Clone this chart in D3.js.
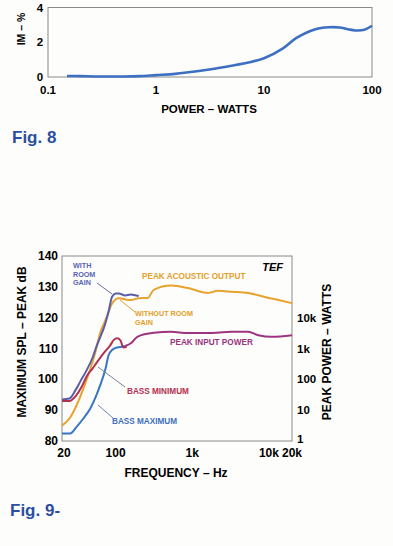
<!DOCTYPE html>
<html>
<head>
<meta charset="utf-8">
<script src="https://cdn.jsdelivr.net/npm/d3@7"></script>
<style>
  body { margin: 0; background: #fdfdfb; }
  text { font-family: "Liberation Sans", Arial, sans-serif; font-weight: bold; }
</style>
</head>
<body>
<div id="root"></div>
<script>
const width = 393;
const height = 546;

// Fig. 8 - IM distortion vs power
const imPower = [0.15, 0.2, 0.3, 0.5, 0.7, 1, 1.5, 2, 3, 5, 7, 10, 15, 20, 30, 40, 50, 60, 70, 85, 100];
const imPct   = [0.06, 0.05, 0.03, 0.03, 0.05, 0.11, 0.18, 0.27, 0.42, 0.65, 0.82, 1.08, 1.65, 2.25, 2.75, 2.86, 2.85, 2.75, 2.68, 2.72, 2.95];
const imXTicks = [0.1, 1, 10, 100];
const imYTicks = [0, 2, 4];

// Fig. 9 - maximum SPL / peak power vs frequency
const withRoomF  = [20, 25, 30, 35, 42, 50, 57, 65, 70, 81, 90, 100, 110, 134, 157, 200];
const withRoomDb = [93.5, 93.8, 96.5, 99.5, 103, 107, 111, 114.5, 116.5, 122, 126.8, 127.8, 127.8, 127.2, 127.5, 127];
const acousticF  = [20, 25, 31, 38, 47, 52, 63, 77, 90, 110, 157, 200, 262, 315, 527, 874, 1600, 2160, 3300, 5340, 10000, 13400, 20000];
const acousticDb = [85, 87.3, 91.6, 97, 103.5, 107, 115, 120.3, 124.6, 126.3, 125.7, 126.3, 126.4, 129, 130.4, 129.6, 128, 128.7, 128.4, 128, 126.4, 125.7, 124.7];
const bassMinF   = [20, 25, 30, 36, 42, 50, 57, 70, 85, 95, 105, 115, 127, 140];
const bassMinDb  = [93, 93, 94.5, 97.5, 101, 103.5, 105.5, 108.5, 111, 112.8, 113.3, 112.7, 110.3, 110.6];
const bassMaxF   = [20, 25.5, 31, 38, 47, 54, 63, 74, 81, 90, 100, 115, 134];
const bassMaxDb  = [82.4, 82.4, 84.6, 87.3, 90.6, 93.8, 98.1, 103.5, 107.8, 109.5, 110.2, 110.5, 110.8];
const inputF     = [134, 160, 192, 315, 527, 874, 1600, 3260, 5340, 7300, 10900, 20000];
const inputDb    = [110.8, 111.8, 113.8, 115.1, 115.4, 115, 115, 115.4, 115.4, 114.3, 113.8, 114.3];
const freqTicks  = [20, 100, 1000, 10000, 20000];
const freqLabels = ['20', '100', '1k', '10k', '20k'];
const dbTicks    = [80, 90, 100, 110, 120, 130, 140];
const wattTicks  = [1, 10, 100, 1000, 10000];
const wattLabels = ['1', '10', '100', '1k', '10k'];

const svg = d3.select('#root')
    .append('svg')
    .attr('width', width)
    .attr('height', height);

// ---------- Fig. 8 ----------
const x8 = d3.scaleLog().domain([0.1, 100]).range([48, 372]);
const y8 = d3.scaleLinear().domain([0, 4]).range([77, 7.5]);

svg.append('rect')
    .attr('x', x8(0.1)).attr('y', y8(4))
    .attr('width', x8(100) - x8(0.1)).attr('height', y8(0) - y8(4))
    .attr('fill', 'none').attr('stroke', '#8a8a8a').attr('stroke-width', 1);

svg.append('g').selectAll('text')
    .data(imXTicks)
    .join('text')
    .attr('x', d => x8(d))
    .attr('y', 94)
    .attr('text-anchor', 'middle')
    .attr('font-size', 11.5)
    .text(d => d);

svg.append('g').selectAll('text')
    .data(imYTicks)
    .join('text')
    .attr('x', 40)
    .attr('y', d => y8(d) + 4)
    .attr('text-anchor', 'middle')
    .attr('font-size', 11.5)
    .text(d => d);

svg.append('text')
    .attr('transform', 'translate(25,29) rotate(-90)')
    .attr('text-anchor', 'middle')
    .attr('font-size', 10.5)
    .text('IM – %');

svg.append('text')
    .attr('x', 209).attr('y', 113)
    .attr('text-anchor', 'middle')
    .attr('font-size', 11.5)
    .text('POWER – WATTS');

const line8 = d3.line()
    .x((d, i) => x8(imPower[i]))
    .y(d => y8(d))
    .curve(d3.curveCatmullRom.alpha(0.5));

svg.append('path')
    .attr('d', line8(imPct))
    .attr('fill', 'none')
    .attr('stroke', '#3d6fc2')
    .attr('stroke-width', 2.6);

svg.append('text')
    .attr('x', 12).attr('y', 143)
    .attr('font-family', '"Open Sans", sans-serif')
    .attr('font-size', 17)
    .attr('fill', '#2b4f9e')
    .text('Fig. 8');

// ---------- Fig. 9 ----------
const x9 = d3.scaleLog().domain([20, 20000]).range([62, 292]);
const y9 = d3.scaleLinear().domain([80, 140]).range([441, 256]);
const yW = d3.scaleLog().domain([1, 1e6]).range([441, 256]);

svg.append('rect')
    .attr('x', x9(20)).attr('y', y9(140))
    .attr('width', x9(20000) - x9(20)).attr('height', y9(80) - y9(140))
    .attr('fill', 'none').attr('stroke', '#8a8a8a').attr('stroke-width', 1);

svg.append('g').selectAll('text')
    .data(freqTicks)
    .join('text')
    .attr('x', (d, i) => x9(d) + (i === 0 ? 2 : 0))
    .attr('y', 457)
    .attr('text-anchor', 'middle')
    .attr('font-size', 12)
    .text((d, i) => freqLabels[i]);

svg.append('g').selectAll('text')
    .data(dbTicks)
    .join('text')
    .attr('x', 58)
    .attr('y', d => y9(d) + 4)
    .attr('text-anchor', 'end')
    .attr('font-size', 12)
    .text(d => d);

svg.append('g').selectAll('text')
    .data(wattTicks)
    .join('text')
    .attr('x', 297)
    .attr('y', (d, i) => yW(d) + (i === 0 ? 2 : 4))
    .attr('font-size', 11.5)
    .text((d, i) => wattLabels[i]);

svg.append('text')
    .attr('transform', 'translate(26,342) rotate(-90)')
    .attr('text-anchor', 'middle')
    .attr('font-size', 12)
    .text('MAXIMUM SPL – PEAK dB');

svg.append('text')
    .attr('transform', 'translate(331,352) rotate(-90)')
    .attr('text-anchor', 'middle')
    .attr('font-size', 12)
    .text('PEAK POWER – WATTS');

svg.append('text')
    .attr('x', 176).attr('y', 477)
    .attr('text-anchor', 'middle')
    .attr('font-size', 12)
    .text('FREQUENCY – Hz');

svg.append('text')
    .attr('x', 283).attr('y', 271)
    .attr('text-anchor', 'end')
    .attr('font-size', 11)
    .attr('font-style', 'italic')
    .text('TEF');

const line9 = xs => d3.line()
    .x((d, i) => x9(xs[i]))
    .y(d => y9(d))
    .curve(d3.curveMonotoneX);

const curves = [
    {f: acousticF, db: acousticDb, color: '#e9a22e'},
    {f: inputF, db: inputDb, color: '#9c3480'},
    {f: bassMaxF, db: bassMaxDb, color: '#3a74c4'},
    {f: bassMinF, db: bassMinDb, color: '#b3304e'},
    {f: withRoomF, db: withRoomDb, color: '#5a5ea6'}
];

curves.forEach(c => {
    svg.append('path')
        .attr('d', line9(c.f)(c.db))
        .attr('fill', 'none')
        .attr('stroke', c.color)
        .attr('stroke-width', 2);
});

// leader lines
const leaders = [
    {p: [[97, 283], [112, 294]], color: '#6a6ea8'},
    {p: [[135, 312], [120, 300]], color: '#d9a040'},
    {p: [[125, 387], [98, 367]], color: '#7a7f9a'},
    {p: [[113, 418], [98, 405]], color: '#6a86b8'}
];
leaders.forEach(l => {
    svg.append('path')
        .attr('d', d3.line()(l.p))
        .attr('fill', 'none')
        .attr('stroke', l.color)
        .attr('stroke-width', 1);
});

// curve labels
const labels = [
    {lines: ['WITH', 'ROOM', 'GAIN'], x: 73, y: 268, color: '#5b63b5'},
    {lines: ['PEAK ACOUSTIC OUTPUT'], x: 142, y: 279, color: '#e3a02a'},
    {lines: ['WITHOUT ROOM', 'GAIN'], x: 135, y: 316, color: '#e3a02a'},
    {lines: ['PEAK INPUT POWER'], x: 170, y: 345, color: '#9a3480'},
    {lines: ['BASS MINIMUM'], x: 127, y: 394, color: '#b3304e'},
    {lines: ['BASS MAXIMUM'], x: 112, y: 424, color: '#3f6fc0'}
];
labels.forEach(l => {
    svg.append('text')
        .attr('font-size', l.lines.length > 1 ? 7.2 : 8.2)
        .attr('fill', l.color)
        .selectAll('tspan')
        .data(l.lines)
        .join('tspan')
        .attr('x', l.x)
        .attr('y', (d, i) => l.y + i * 8.5)
        .text(d => d);
});

svg.append('text')
    .attr('x', 10).attr('y', 516)
    .attr('font-family', '"Open Sans", sans-serif')
    .attr('font-size', 17)
    .attr('fill', '#2b4f9e')
    .text('Fig. 9-');
</script>
</body>
</html>
